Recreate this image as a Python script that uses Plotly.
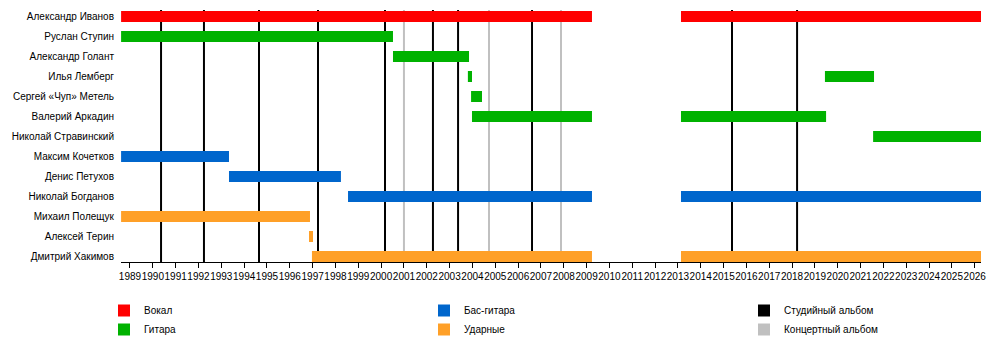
import plotly.graph_objects as go

members = ["Александр Иванов", "Руслан Ступин", "Александр Голант", "Илья Лемберг",
           "Сергей «Чуп» Метель", "Валерий Аркадин", "Николай Стравинский",
           "Максим Кочетков", "Денис Петухов", "Николай Богданов",
           "Михаил Полещук", "Алексей Терин", "Дмитрий Хакимов"]

# Вокал
vocal_who = ["Александр Иванов", "Александр Иванов"]
vocal_start = [1988.61, 2013.135]
vocal_end = [2009.236, 2026.28]

# Гитара
guitar_who = ["Руслан Ступин", "Александр Голант", "Илья Лемберг", "Илья Лемберг",
              "Сергей «Чуп» Метель", "Валерий Аркадин", "Валерий Аркадин",
              "Николай Стравинский"]
guitar_start = [1988.61, 2000.52, 2003.80, 2019.44, 2003.94, 2003.98, 2013.135, 2021.55]
guitar_end = [2000.52, 2003.85, 2003.98, 2021.59, 2004.42, 2009.236, 2019.49, 2026.28]

# Бас-гитара
bass_who = ["Максим Кочетков", "Денис Петухов", "Николай Богданов", "Николай Богданов"]
bass_start = [1988.61, 1993.336, 1998.55, 2013.135]
bass_end = [1993.336, 1998.24, 2009.236, 2026.28]

# Ударные
drums_who = ["Михаил Полещук", "Алексей Терин", "Дмитрий Хакимов", "Дмитрий Хакимов"]
drums_start = [1988.61, 1996.84, 1996.97, 2013.135]
drums_end = [1996.884, 1997.016, 2009.236, 2026.28]

studio_albums = [1990.36, 1992.24, 1994.65, 1997.235, 2000.17, 2002.27, 2003.37,
                 2006.61, 2015.37, 2018.22]
live_albums = [2001.0, 2004.725, 2007.88]

years = list(range(1989, 2027))
year_labels = [str(y) for y in years]

FONT = "Liberation Sans, Arial, sans-serif"
C_VOCAL = "#ff0000"
C_GUITAR = "#00b200"
C_BASS = "#0066cc"
C_DRUMS = "#ffa028"
C_STUDIO = "#000000"
C_LIVE = "#c0c0c0"

fig = go.Figure()

def add_role(name, who, start, end, color, legend):
    fig.add_trace(go.Bar(
        y=who, base=start, x=[e - s for s, e in zip(start, end)],
        orientation="h", width=0.55, marker=dict(color=color, line=dict(width=0)),
        name=name, legend=legend, hoverinfo="skip",
    ))

add_role("Вокал", vocal_who, vocal_start, vocal_end, C_VOCAL, "legend")
add_role("Гитара", guitar_who, guitar_start, guitar_end, C_GUITAR, "legend")
add_role("Бас-гитара", bass_who, bass_start, bass_end, C_BASS, "legend2")
add_role("Ударные", drums_who, drums_start, drums_end, C_DRUMS, "legend2")

for name, color in [("Студийный альбом", C_STUDIO), ("Концертный альбом", C_LIVE)]:
    fig.add_trace(go.Bar(y=[None], x=[None], orientation="h",
                         marker=dict(color=color, line=dict(width=0)),
                         name=name, legend="legend3", hoverinfo="skip"))

for xv in studio_albums:
    fig.add_shape(type="line", xref="x", yref="paper", x0=xv, x1=xv, y0=0, y1=1,
                  line=dict(color=C_STUDIO, width=2), layer="below")
for xv in live_albums:
    fig.add_shape(type="line", xref="x", yref="paper", x0=xv, x1=xv, y0=0, y1=1,
                  line=dict(color=C_LIVE, width=2), layer="below")

leg_common = dict(xref="container", yref="container", xanchor="left", yanchor="top",
                  orientation="v", font=dict(family=FONT, size=10, color="black"),
                  bgcolor="rgba(0,0,0,0)", borderwidth=0, traceorder="normal")
leg_y = (342 - 296) / 342

fig.update_layout(
    width=1000, height=342,
    margin=dict(l=121, r=19, t=10, b=80, autoexpand=False),
    paper_bgcolor="white", plot_bgcolor="white",
    barmode="overlay",
    font=dict(family=FONT, size=10, color="black"),
    legend=dict(x=0.104, y=leg_y, **leg_common),
    legend2=dict(x=0.424, y=leg_y, **leg_common),
    legend3=dict(x=0.744, y=leg_y, **leg_common),
    xaxis=dict(range=[1988.606, 2026.276], tickmode="array", tickvals=years,
               ticktext=year_labels, tickangle=0, showgrid=False, zeroline=False,
               showline=True, linecolor="black", linewidth=1, ticks="outside",
               ticklen=5, tickwidth=1, tickcolor="black", automargin=False,
               tickfont=dict(family=FONT, size=10, color="black")),
    yaxis=dict(type="category", categoryorder="array", categoryarray=members,
               range=[12.275, -0.325], showgrid=False, zeroline=False,
               showline=False, ticks="", ticklabelstandoff=6, automargin=False,
               tickfont=dict(family=FONT, size=10, color="black")),
)

fig.write_html("out.html")
